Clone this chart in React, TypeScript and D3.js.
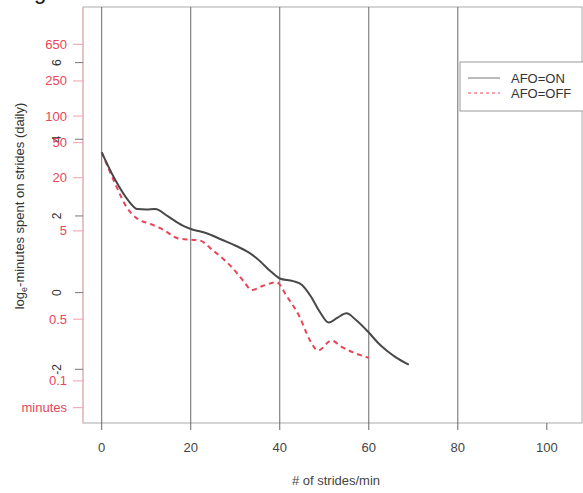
import * as d3 from 'd3';
import React from 'react';

// strides/min vs log_e minutes, two curves
const onX = [0, 3, 6, 8, 10, 12, 15, 18, 20, 22, 24, 27, 30, 33, 35, 38, 40, 43, 45, 47, 49, 51, 53, 55, 57, 60, 62, 64, 66, 69];
const onY = [3.66, 2.95, 2.4, 2.18, 2.17, 2.18, 1.98, 1.76, 1.66, 1.6, 1.53, 1.38, 1.23, 1.05, 0.88, 0.55, 0.37, 0.3, 0.2, -0.1, -0.5, -0.78, -0.65, -0.54, -0.7, -1.04, -1.3, -1.51, -1.68, -1.88];
const offX = [0, 3, 5.6, 8, 11, 14, 17, 20, 22, 25, 27.5, 29.5, 31.8, 33.7, 36.3, 39.3, 41.5, 44.5, 46.8, 48.6, 51.6, 54, 56.5, 60];
const offY = [3.66, 2.85, 2.23, 1.93, 1.79, 1.63, 1.42, 1.38, 1.36, 1.1, 0.86, 0.63, 0.31, 0.07, 0.18, 0.27, -0.08, -0.64, -1.25, -1.51, -1.25, -1.42, -1.56, -1.7];

const xTicks = [0, 20, 40, 60, 80, 100];
const vLines = [0, 20, 40, 60, 80];
const logTicks = [-2, 0, 2, 4, 6];
const minuteTicks = ['650', '250', '100', '50', '20', '5', '0.5', '0.1'];
const legendLabels = ['AFO=ON', 'AFO=OFF'];

const W = 583;
const H = 493;
const box = { left: 83, right: 582, top: 7, bottom: 423 };
const font = '"Liberation Sans", Arial, sans-serif';
const red = '#e8455a';
const dark = '#484848';

const App = () => {
  const x = d3.scaleLinear().domain([-4.2, 107.9]).range([box.left, box.right]);
  const y = d3.scaleLinear().domain([-3.4, 7.45]).range([box.bottom, box.top]);

  const line = d3.line<[number, number]>()
    .x(d => x(d[0]))
    .y(d => y(d[1]))
    .curve(d3.curveMonotoneX);

  const onPts = onX.map((v, i) => [v, onY[i]] as [number, number]);
  const offPts = offX.map((v, i) => [v, offY[i]] as [number, number]);

  const redTicks = minuteTicks.map(t => ({ label: t, v: Math.log(parseFloat(t)) }));
  redTicks.push({ label: 'minutes', v: -3 });

  const yMid = 206;

  return (
    <svg width={W} height={H} style={{ position: 'absolute', left: 0, top: 0, background: '#fff' }}>
      {/* cut off title remnant */}
      <text x={40} y={-1} fontSize={22} fontFamily={font} textAnchor="middle" fill="#111">g</text>

      {/* plot box */}
      <rect x={box.left} y={box.top} width={box.right - box.left} height={box.bottom - box.top}
        fill="none" stroke="#aaa" strokeWidth={1} />
      <line x1={box.left} x2={box.left} y1={box.top} y2={box.bottom} stroke="#f2b5bd" strokeWidth={1} />

      {/* vertical reference lines */}
      {vLines.map(v => (
        <line key={v} x1={x(v)} x2={x(v)} y1={box.top} y2={box.bottom} stroke="#6a6a6a" strokeWidth={1} />
      ))}

      {/* x axis */}
      {xTicks.map(t => (
        <g key={t}>
          <line x1={x(t)} x2={x(t)} y1={box.bottom} y2={box.bottom + 7} stroke="#666" />
          <text x={x(t)} y={452} fontSize={13} fontFamily={font} textAnchor="middle" fill="#444">{t}</text>
        </g>
      ))}
      <text x={336} y={485} fontSize={13} fontFamily={font} textAnchor="middle" fill="#444"># of strides/min</text>

      {/* log_e axis (black, rotated labels) */}
      {logTicks.map(t => (
        <g key={t}>
          <line x1={box.left - 8} x2={box.left} y1={y(t)} y2={y(t)} stroke="#777" />
          <text transform={`translate(61,${y(t)}) rotate(-90)`} fontSize={12} fontFamily={font}
            textAnchor="middle" fill="#333">{t}</text>
        </g>
      ))}

      {/* minutes axis (red) */}
      {redTicks.map(t => (
        <g key={t.label}>
          <line x1={box.left - 10} x2={box.left} y1={y(t.v)} y2={y(t.v)} stroke="#f0a0aa" />
          <text x={67} y={y(t.v) + 4.5} fontSize={13} fontFamily={font} textAnchor="end" fill={red}>{t.label}</text>
        </g>
      ))}

      {/* y title */}
      <text transform={`translate(24,${yMid}) rotate(-90)`} fontSize={13} fontFamily={font}
        textAnchor="middle" fill="#333">
        log<tspan fontSize={9} dy={3}>e</tspan><tspan dy={-3}>-minutes spent on strides (daily)</tspan>
      </text>

      {/* curves */}
      <path d={line(offPts) ?? ''} fill="none" stroke={red} strokeWidth={2} strokeDasharray="5,4" />
      <path d={line(onPts) ?? ''} fill="none" stroke={dark} strokeWidth={2} />

      {/* legend */}
      <rect x={460} y={62} width={140} height={49} fill="#fff" stroke="#999" strokeWidth={1} />
      <line x1={468} x2={500} y1={78} y2={78} stroke="#777" strokeWidth={1} />
      <line x1={468} x2={500} y1={93} y2={93} stroke={red} strokeWidth={1} strokeDasharray="3,3" />
      {legendLabels.map((l, i) => (
        <text key={l} x={511} y={82.5 + i * 15} fontSize={13} fontFamily={font} fill="#333">{l}</text>
      ))}
    </svg>
  );
};

export default App;
